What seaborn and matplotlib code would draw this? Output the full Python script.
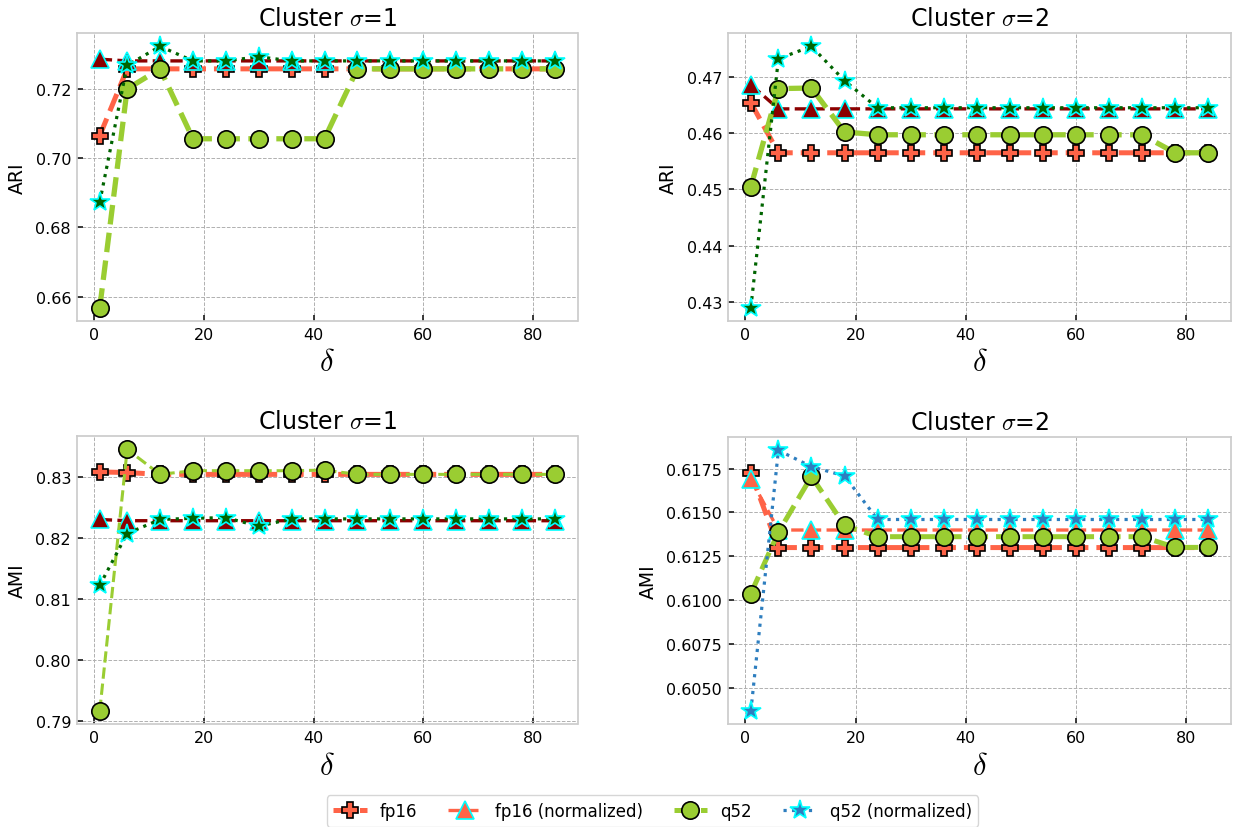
import matplotlib
matplotlib.use("Agg")
import matplotlib.pyplot as plt
from matplotlib.ticker import FormatStrFormatter
import seaborn as sns
import numpy as np

delta = [1, 6, 12, 18, 24, 30, 36, 42, 48, 54, 60, 66, 72, 78, 84]

# ARI, sigma = 1
ari1_fp16 = [0.7065] + [0.7258] * 14
ari1_fp16n = [0.7286] + [0.7281] * 14
ari1_q52 = [0.6568, 0.7200, 0.7258, 0.7056, 0.7056, 0.7056, 0.7056, 0.7056,
            0.7258, 0.7258, 0.7258, 0.7258, 0.7258, 0.7258, 0.7258]
ari1_q52n = [0.6873, 0.7268, 0.7323, 0.7281, 0.7281, 0.7293, 0.7281, 0.7281,
             0.7281, 0.7281, 0.7281, 0.7281, 0.7281, 0.7281, 0.7281]

# ARI, sigma = 2
ari2_fp16 = [0.4654] + [0.4565] * 14
ari2_fp16n = [0.4686] + [0.4643] * 14
ari2_q52 = [0.4505, 0.4679, 0.4680, 0.4602, 0.4597, 0.4597, 0.4597, 0.4597,
            0.4597, 0.4597, 0.4597, 0.4597, 0.4597, 0.4565, 0.4565]
ari2_q52n = [0.4290, 0.4732, 0.4754, 0.4693, 0.4645, 0.4645, 0.4645, 0.4645,
             0.4645, 0.4645, 0.4645, 0.4645, 0.4645, 0.4645, 0.4645]

# AMI, sigma = 1
ami1_fp16 = [0.8308, 0.8307] + [0.8304] * 13
ami1_fp16n = [0.8230] + [0.8228] * 14
ami1_q52 = [0.7916, 0.8345, 0.8304, 0.8310, 0.8310, 0.8310, 0.8310, 0.8311,
            0.8304, 0.8304, 0.8304, 0.8304, 0.8304, 0.8304, 0.8304]
ami1_q52n = [0.8122, 0.8207, 0.8230, 0.8232, 0.8233, 0.8219, 0.8231, 0.8231,
             0.8231, 0.8231, 0.8231, 0.8231, 0.8231, 0.8231, 0.8231]

# AMI, sigma = 2
ami2_fp16 = [0.61725] + [0.6130] * 14
ami2_fp16n = [0.61690] + [0.6140] * 14
ami2_q52 = [0.61038, 0.61388, 0.61705, 0.61426, 0.61362, 0.61362, 0.61362, 0.61362,
            0.61362, 0.61362, 0.61362, 0.61362, 0.61362, 0.61301, 0.61301]
ami2_q52n = [0.60369, 0.61854, 0.61761, 0.61708, 0.61460, 0.61460, 0.61460, 0.61460,
             0.61460, 0.61460, 0.61460, 0.61460, 0.61460, 0.61460, 0.61460]

labels = ["fp16", "fp16 (normalized)", "q52", "q52 (normalized)"]
titles = [r"Cluster $\sigma$=1", r"Cluster $\sigma$=2", r"Cluster $\sigma$=1", r"Cluster $\sigma$=2"]
ylabels = ["ARI", "ARI", "AMI", "AMI"]
xticks = [0, 20, 40, 60, 80]
yticks = [
    [0.66, 0.68, 0.70, 0.72],
    [0.43, 0.44, 0.45, 0.46, 0.47],
    [0.79, 0.80, 0.81, 0.82, 0.83],
    [0.6050, 0.6075, 0.6100, 0.6125, 0.6150, 0.6175],
]
yfmt = ["%.2f", "%.2f", "%.2f", "%.4f"]

sns.set_theme(style="whitegrid", rc={
    "axes.edgecolor": "#cccccc",
    "axes.linewidth": 1.25,
    "axes.labelcolor": "black",
    "text.color": "black",
    "grid.color": "#b0b0b0",
    "grid.linestyle": "--",
    "grid.linewidth": 0.7,
    "xtick.direction": "in",
    "ytick.direction": "in",
    "xtick.bottom": True,
    "ytick.left": True,
    "xtick.color": "#222222",
    "ytick.color": "#222222",
    "xtick.labelcolor": "black",
    "ytick.labelcolor": "black",
    "xtick.major.size": 4,
    "ytick.major.size": 4,
})
plt.rcParams["font.family"] = ["DejaVu Sans"]
plt.rcParams["mathtext.fontset"] = "cm"

fig = plt.figure(figsize=(12.35, 8.28), dpi=100)
W, H = 1235.0, 828.0
boxes = [(77, 34.3, 577.5, 321.7), (728, 34.3, 1231, 321.7),
         (77, 437.3, 577.5, 725), (728, 438.3, 1231, 725)]
axes = [fig.add_axes([l / W, 1 - b / H, (r - l) / W, (b - t) / H]) for (l, t, r, b) in boxes]

data = [
    (ari1_fp16, ari1_fp16n, ari1_q52, ari1_q52n),
    (ari2_fp16, ari2_fp16n, ari2_q52, ari2_q52n),
    (ami1_fp16, ami1_fp16n, ami1_q52, ami1_q52n),
    (ami2_fp16, ami2_fp16n, ami2_q52, ami2_q52n),
]
norm_tri_colors = ["darkred", "darkred", "darkred", "tomato"]
norm_star_colors = ["darkgreen", "darkgreen", "darkgreen", "#2e7ebf"]
q52_lw = [3.8, 3.8, 2.2, 3.6]

for i, ax in enumerate(axes):
    fp, fpn, q, qn = data[i]
    sns.lineplot(x=delta, y=fp, ax=ax, color="tomato", linestyle="--", linewidth=3.6,
                 marker="P", markersize=11.5, markeredgecolor="black", markeredgewidth=1.2,
                 label=labels[0], zorder=3)
    sns.lineplot(x=delta, y=fpn, ax=ax, color=norm_tri_colors[i], linestyle="--", linewidth=2.4,
                 marker="^", markersize=13.5, markeredgecolor="cyan", markeredgewidth=1.2,
                 label=labels[1], zorder=4)
    sns.lineplot(x=delta, y=q, ax=ax, color="yellowgreen", linestyle="--", linewidth=q52_lw[i],
                 marker="o", markersize=12.5, markeredgecolor="black", markeredgewidth=1.2,
                 label=labels[2], zorder=5)
    sns.lineplot(x=delta, y=qn, ax=ax, color=norm_star_colors[i], linestyle=":", linewidth=2.3,
                 marker="*", markersize=14.5, markeredgecolor="cyan", markeredgewidth=1.2,
                 label=labels[3], zorder=6)
    ax.set_title(titles[i], fontsize=17)
    ax.set_ylabel(ylabels[i], fontsize=13.5, labelpad=6)
    ax.set_xlabel(r"$\delta$", fontsize=22)
    ax.tick_params(labelsize=11.5, pad=4.3)
    ax.set_xticks(xticks)
    ax.set_yticks(yticks[i])
    ax.yaxis.set_major_formatter(FormatStrFormatter(yfmt[i]))
    ax.grid(True)
    ax.get_legend().remove()

handles, labs = axes[3].get_legend_handles_labels()
fig.legend(handles, labs, loc="upper center", bbox_to_anchor=(652.5 / W, 1 - 788 / H),
           ncol=4, fontsize=12, frameon=True, handlelength=2.0, handletextpad=0.8,
           columnspacing=1.85)

fig.savefig("out.png", dpi=100)
